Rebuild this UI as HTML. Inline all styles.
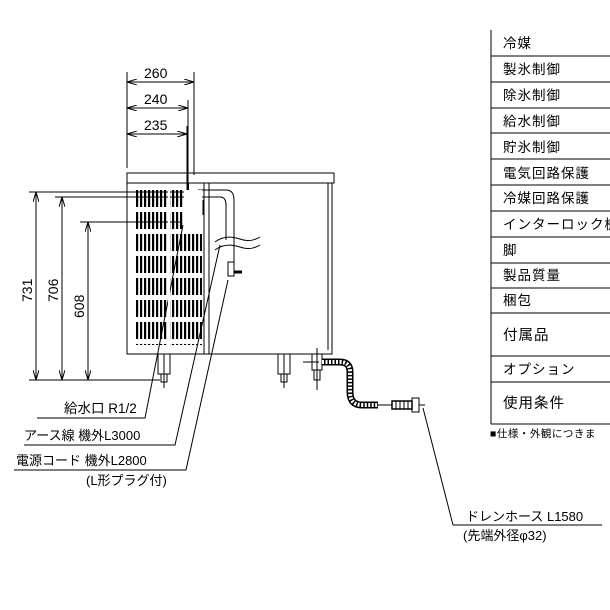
<!DOCTYPE html>
<html><head><meta charset="utf-8"><style>
html,body{margin:0;padding:0;background:#fff}
svg{display:block}
text{font-family:"Liberation Sans","Noto Sans CJK JP",sans-serif;fill:#000}
</style></head><body>
<svg width="610" height="610" viewBox="0 0 610 610" xmlns="http://www.w3.org/2000/svg">
<defs>
<marker id="a" viewBox="0 0 10 6" refX="10" refY="3" markerWidth="10" markerHeight="6" orient="auto-start-reverse" markerUnits="userSpaceOnUse"><path d="M0,0L10,3L0,6" fill="none" stroke="#000" stroke-width="1"/></marker>
<pattern id="g" x="136" y="190" width="4" height="22" patternUnits="userSpaceOnUse"><rect x="0" y="0" width="2.2" height="17" fill="#000"/></pattern>
</defs>
<g stroke="#000" stroke-width="1" fill="none">
<line x1="127" y1="72" x2="127" y2="168"/>
<line x1="194" y1="72" x2="194" y2="175"/>
<line x1="188" y1="100" x2="188" y2="190"/>
<line x1="187" y1="126" x2="187" y2="190"/>
<line x1="127" y1="82" x2="194" y2="82" marker-start="url(#a)" marker-end="url(#a)"/>
<line x1="127" y1="108" x2="188" y2="108" marker-start="url(#a)" marker-end="url(#a)"/>
<line x1="127" y1="134" x2="187" y2="134" marker-start="url(#a)" marker-end="url(#a)"/>
<rect x="127" y="173" width="207" height="10"/>
<rect x="127" y="183" width="205" height="171"/>
<line x1="328" y1="183" x2="328" y2="350"/>
<line x1="204" y1="183" x2="204" y2="354"/>
<line x1="209" y1="183" x2="209" y2="354"/>
<line x1="29" y1="192" x2="190" y2="192"/>
<line x1="55" y1="197" x2="190" y2="197"/>
<line x1="80" y1="222" x2="182" y2="222"/>
<line x1="29" y1="380" x2="160" y2="380"/>
<line x1="36" y1="192" x2="36" y2="380" marker-start="url(#a)" marker-end="url(#a)"/>
<line x1="62" y1="197" x2="62" y2="380" marker-start="url(#a)" marker-end="url(#a)"/>
<line x1="88" y1="222" x2="88" y2="380" marker-start="url(#a)" marker-end="url(#a)"/>
<line x1="188" y1="183" x2="188" y2="220" stroke-width="2"/>
<path d="M194,197 H220 Q226,197 226,205 V240" />
<path d="M198,190 H226 Q234,190 234,200 V262"/>
<path d="M215,242 q10,-8 25,-3 q10,4 20,-2"/>
<path d="M215,250 q10,-8 25,-3 q10,4 20,-2"/>
<rect x="228" y="262" width="6" height="14"/>
<line x1="234" y1="272" x2="242" y2="272" stroke-width="3"/>
<rect x="185" y="213" width="8" height="8"/>
<line x1="203" y1="215" x2="203" y2="200"/>
<path d="M158,354 v20 h12 v-20 M161,374 v8 h6 v-8"/>
<path d="M278,354 v20 h12 v-20 M281,374 v8 h6 v-8"/>
<line x1="164" y1="354" x2="164" y2="388"/><line x1="284" y1="354" x2="284" y2="388"/>
<path d="M312,354 v16 h10 v-16 M314,370 v10 h6 v-10 M303,362 h16"/>
<line x1="317" y1="348" x2="317" y2="390"/>
<path d="M322,362 H340 Q350,362 350,372 V392 Q350,405 362,405 H378" stroke-width="7"/>
<path d="M322,362 H340 Q350,362 350,372 V392 Q350,405 362,405 H378" stroke="#fff" stroke-width="4" stroke-dasharray="2 1.5"/>
<line x1="378" y1="405" x2="392" y2="405"/>
<rect x="392" y="401" width="20" height="8" stroke-width="1.5"/>
<path d="M396,401v8M400,401v8M404,401v8M408,401v8"/>
<rect x="412" y="398" width="7" height="14"/>
<line x1="419" y1="405" x2="425" y2="405"/>
<path d="M37,418 H145 L183,225"/>
<path d="M24,445 H175 L220,245"/>
<path d="M14,470 H186 L228,280"/>
<path d="M453,525 H602 M453,525 L423,408" />
<line x1="491" y1="30" x2="491" y2="424"/>
<line x1="491" y1="424" x2="610" y2="424"/>
<path d="M491,56H610M491,82H610M491,108H610M491,133H610M491,159H610M491,185H610M491,211H610M491,237H610M491,263H610M491,288H610M491,313H610M491,356H610M491,382H610"/>
</g>
<rect x="136" y="190" width="66" height="155" fill="url(#g)"/>
<rect x="168" y="190" width="2" height="155" fill="#fff"/>
<rect x="184" y="190" width="18" height="42" fill="#fff"/>
<g font-size="14">
<text x="144" y="78">260</text>
<text x="144" y="104">240</text>
<text x="144" y="130">235</text>
<text transform="translate(32,302) rotate(-90)">731</text>
<text transform="translate(58,302) rotate(-90)">706</text>
<text transform="translate(84,318) rotate(-90)">608</text>
</g>
<g font-size="13">
<text x="64" y="413" font-size="13.5">給水口 R1/2</text>
<text x="24" y="440">アース線 機外L3000</text>
<text x="16" y="465">電源コード 機外L2800</text>
<text x="86" y="485">(L形プラグ付)</text>
<text x="466" y="521">ドレンホース L1580</text>
<text x="463" y="540">(先端外径φ32)</text>
</g>
<g font-size="13.5" letter-spacing="1">
<text x="503" y="48">冷媒</text>
<text x="503" y="74">製氷制御</text>
<text x="503" y="100">除氷制御</text>
<text x="503" y="126">給水制御</text>
<text x="503" y="152">貯氷制御</text>
<text x="503" y="178">電気回路保護</text>
<text x="503" y="203">冷媒回路保護</text>
<text x="503" y="229">インターロック機能</text>
<text x="503" y="255">脚</text>
<text x="503" y="280">製品質量</text>
<text x="503" y="305">梱包</text>
<text x="503" y="340" font-size="14.5">付属品</text>
<text x="503" y="374">オプション</text>
<text x="503" y="408" font-size="14.5">使用条件</text>
<text x="490" y="437" font-size="10.5" letter-spacing="0.5">■仕様・外観につきま</text>
</g>
</svg>
</body></html>
